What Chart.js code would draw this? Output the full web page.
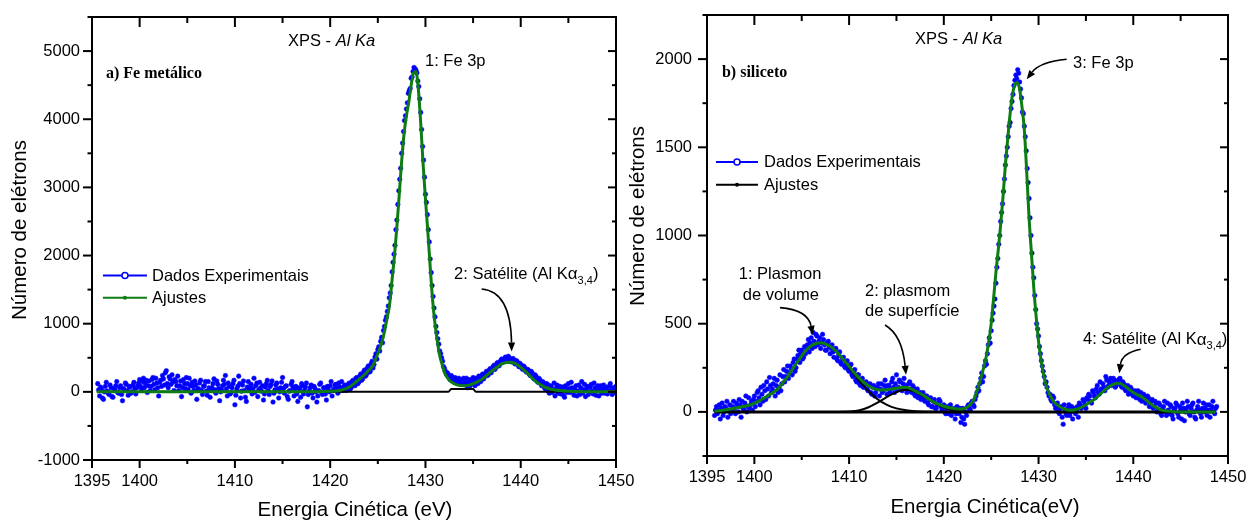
<!DOCTYPE html>
<html>
<head>
<meta charset="utf-8">
<script src="https://cdn.jsdelivr.net/npm/chart.js@4/dist/chart.umd.min.js"></script>
<style>
  html, body { margin: 0; padding: 0; background: #fff; }
  #wrap { position: relative; width: 1249px; height: 525px; overflow: hidden; }
  canvas { position: absolute; top: 0; }
  #cA { left: 0; }
  #cB { left: 624px; }
</style>
</head>
<body>
<div id="wrap">
  <canvas id="cA" width="640" height="525"></canvas>
  <canvas id="cB" width="625" height="525"></canvas>
</div>
<script>
// ---------- (a) Fe metálico ----------
// measured spectrum: first energy and step of the analyser grid (eV)
const startA = 1395.6, stepA = 0.1;
const countsA = [
  120, 30, -60, 70, 40, -90, -110, 0, 80, 140, 10, -20, -40, 100, 60, -70, -80, 50, 30, 90,
  150, -10, -20, 60, 90, -40, -130, 50, 20, 130, 110, 20, -50, 80, 70, -20, 0, 100, 140, 50,
  -30, 60, 90, 130, 180, 80, 40, 150, 200, 60, 120, 170, -10, 90, 160, 20, 80, 180, 210, 110,
  30, 200, 130, 60, -60, 140, 170, 80, 240, 190, 100, 280, 310, 120, 60, 220, 190, 110, 250, 150,
  20, 180, 150, 90, 230, 20, 90, 160, -70, 60, 180, 120, 50, 210, 120, 30, 200, 90, -20, 140,
  80, 20, 160, 100, -110, 50, 40, 130, 170, 20, -40, 80, 90, 150, 10, -50, 150, 60, -80, 30,
  60, 120, 190, 30, -20, 160, 110, 50, -130, 0, 30, 90, 170, 110, 240, 40, -60, 130, 80, -30,
  -10, 60, 120, 170, -190, -50, 40, 80, 230, 120, -90, 10, 100, 160, 20, -80, -140, 70, 150, 30,
  60, 110, -30, 50, 200, -10, 90, 130, -70, 30, 140, 60, 10, 90, -120, -30, 70, 120, 170, 20,
  -40, 80, 110, 160, -150, -20, 30, 100, 130, 40, -90, 0, 60, 140, 210, 50, -20, 80, 90, -70,
  -110, 10, 20, 110, 150, 70, -60, 40, 80, -30, -140, 60, 40, -80, 120, 90, -30, 20, 70, 130,
  -220, -40, 10, 60, 100, -20, -90, 80, 50, 0, -150, -60, 20, 110, 130, -10, -40, 60, 60, -30,
  -120, 80, 30, 0, 90, 150, -60, 20, 40, 100, 110, 50, -20, 130, 70, 20, 150, 60, 20, 100,
  90, 20, 40, 110,
  130, 40, 60, 150, 170, 110, 90, 200, 210, 120,
  140, 230, 260, 170, 190, 290, 320, 230, 250, 350,
  380, 290, 300, 410, 450, 350, 400, 510, 560, 480,
  620, 660, 600, 740, 800, 720, 900, 960, 1050, 1100,
  1180, 1260, 1380, 1450, 1560, 1760, 1900, 2020, 2150, 2380,
  2520, 2750, 2950, 3120, 3280, 3500, 3650, 3820, 3980, 4050,
  4150, 4240, 4380, 4420, 4450, 4600, 4620, 4700, 4760, 4740,
  4720, 4680, 4560, 4480, 4300, 4100, 3850, 3600, 3400, 3150,
  2900, 2780, 2600, 2380, 2200, 1950, 1750, 1560, 1400, 1230,
  1100, 960, 870, 780, 700, 600, 560, 500, 450, 370,
  340, 300, 260, 280, 250, 210, 180, 240, 220, 160,
  150, 210, 190, 140, 130, 200, 170, 120, 110, 180,
  200,
  110, 140, 200, 60, 130, 180, 90, 120, 170, 210,
  150, 90, 200, 170, 120, 230, 190, 150, 240, 260,
  190, 220, 270, 300, 240, 250, 320, 340, 280, 320,
  370, 390, 330, 360, 420, 430, 380, 400, 460, 480,
  430, 450, 490, 510, 460, 470, 520, 500, 450, 440,
  480, 490, 430, 410, 460, 450, 400, 370, 420, 400,
  350, 330, 380, 360, 310, 290, 330, 320, 260, 240,
  300, 280, 210, 190, 250, 230, 160, 140, 200, 180,
  120, 90, 150, 130, 60, 40, 120, 110, 10, -20,
  90, 80, -10, 30, 130, -60, 50, 100, -20, 20,
  80, -30, 30, 70, -50, -80, 90, 40, -10, 120,
  50, -10, 140, 60, 0, -50, 30, 90, -60, 10,
  100, -40, 60, 150, -20, 30, 110, -70, 40, 80,
  -40, 0, 70, 110, 10, -30, 130, 60, -50, 20,
  90, -60, 30, 90, -20, 40, 100, -20, 50, 70,
  -30, 10, 80, 120, 20, -40, 60, 50, -10, 80
];
// fitted envelope
const fitEnergyA = [1395.5, 1400, 1405, 1410, 1415, 1418, 1420, 1421, 1421.5,
  1422, 1422.5, 1423, 1423.5, 1424, 1424.5, 1425, 1425.5,
  1426, 1426.25, 1426.5, 1426.75, 1427, 1427.25, 1427.5, 1427.75,
  1428, 1428.25, 1428.5, 1428.75, 1429, 1429.25, 1429.5, 1429.75,
  1430, 1430.25, 1430.5, 1430.75, 1431, 1431.25, 1431.5, 1431.75,
  1432, 1432.5, 1433, 1433.5, 1434, 1434.5, 1435, 1435.5, 1436, 1436.5,
  1437, 1437.5, 1438, 1438.5, 1439, 1439.5, 1440, 1440.5, 1441, 1441.5,
  1442, 1442.5, 1443, 1443.5, 1444, 1445, 1446, 1447, 1450];
const fitCountsA = [0, 0, 0, 0, 0, 2, 8, 20, 40,
  70, 120, 180, 240, 310, 390, 560, 765,
  1100, 1300, 1650, 2000, 2420, 2900, 3380, 3780,
  4050, 4250, 4500, 4680, 4700, 4450, 3950, 3350,
  2830, 2350, 1830, 1350, 1000, 740, 530, 400,
  280, 170, 120, 95, 90, 95, 120, 150, 190, 250,
  310, 360, 410, 430, 435, 410, 360, 300, 230, 160,
  110, 70, 45, 30, 20, 10, 5, 0, 0];
// background component
const baseEnergyA = [1395.5, 1432.4, 1432.7, 1435.0, 1435.3, 1450];
const baseCountsA = [0, 0, 40, 40, 0, 0];

// ---------- (b) siliceto ----------
const startB = 1395.8, stepB = 0.1;
const countsB = [
  -20, 10, 30, -10, 10, 40, -40, 20, 50, -20, 0, 30, 20, 60, -30, 10, 40, -10, 10, 30,
  60, 20, -10, 50, 30, 0, 70, 40, -30, 60, 20, 10, 50, 90, 0, 30, 80, 20, 40, 60,
  10, 70, 90, 30, 60, 110, 120, 80, 40, 140, 100, 60, 150, 120, 70, 170, 130, 90, 195, 150,
  110, 130, 160, 190, 90, 150, 180, 110, 140, 210, 120, 160, 200, 240, 170, 200, 230, 260, 190, 220,
  260, 240, 210, 280, 300, 230, 250, 300, 320, 350, 280, 330, 350, 300, 310, 370, 330, 360, 380, 410,
  340, 390, 420, 360, 450, 400, 370, 440, 430, 380, 400, 420, 360, 390, 440, 410, 380, 350, 350, 390,
  400, 370, 330, 360, 380, 340, 310, 350, 360, 300, 290, 320, 340, 280, 270, 300, 310, 260, 250, 280,
  290, 240, 230, 260, 270, 210, 200, 230, 240, 180, 170, 210, 210, 160, 150, 180, 190, 140, 140, 160,
  170, 130, 120, 150, 160, 110, 100, 140, 150, 90, 110, 130, 140, 160, 90, 130, 160, 110, 120, 150,
  180, 130, 100, 150, 150, 110, 130, 170, 190, 140, 110, 160, 210, 130, 140, 180, 170, 130, 120, 160,
  190, 140, 150, 110, 130, 160, 170, 120, 110, 150, 140, 100, 90, 120, 130, 80, 100, 110, 70, 90,
  110, 70, 60, 90, 90, 50, 40, 70, 80, 30, 30, 60, 70, 20, 20, 40, 50, 70, 60, 30,
  10, 30, 40, 0, -10, 20, 30, -10, 20, 40, -20, 0, 10, 20, -40, -10, 30, 10, -10, 20,
  -60, -30, 20, -40, -70, 0, -20, 30, 40, 20, 10, 50, 60, 40, 30, 70, 90, 110, 140, 120,
  160, 190, 220, 170, 200, 260, 290, 270, 330, 380, 420, 390, 460, 520, 560, 600, 640, 730, 820, 870,
  950, 1000, 1080, 1130, 1180, 1250, 1320, 1400, 1450, 1500, 1560, 1620, 1640, 1720, 1760, 1800, 1850, 1880, 1910, 1890,
  1940, 1920, 1870, 1830, 1780, 1700, 1690, 1620, 1560, 1480, 1380, 1300, 1210, 1100, 1000, 900, 820, 760, 660, 580,
  500, 470, 430, 370, 330, 290, 260, 230, 200, 160, 170, 140, 110, 90, 100, 70, 60, 90, 80, 40,
  20, 30, 50, 0, -10, 20, 30, -30, -70, 40, 10, -10, -20, 20, 40, -20, 0, 30, -40, 10,
  20, -10, 10, 30, -30, 50, 40, 20, 30, 70, 60, 40, 20, 80, 70, 100, 90, 60, 50, 120,
  110, 90, 80, 130, 150, 110, 100, 170, 130, 120, 160, 140, 120, 200, 180, 140, 150, 170, 190, 150,
  160, 190, 180, 140, 150, 175, 170, 185, 190, 150, 140, 170, 160, 130, 120, 140, 150, 100, 110, 140,
  130, 100, 90, 110, 120, 80, 100, 120, 80, 70, 110, 60, 70, 100, 90, 50, 60, 90, 80, 30,
  40, 60, 70, 20, 30, 60, 50, 0, 10, 50, 40, -10, -20, 20, 30, 60, 0, -20, 50, 10,
  -10, 40, 30, -20, -40, 10, 20, 50, 40, -10, -30, 30, 10, -40, 50, 20, -50, 0, 20, 60,
  30, -10, -20, 20, 40, 50, 0, -30, -40, 10, 30, 60, 10, -10, -30, 20, 50, 0, 20, 40,
  -20, 10, 40, -30, 10, 30, 60, 0, -10, 20, 30
];
const fitEnergyB = [1395.8, 1396.5, 1397, 1397.5, 1398, 1398.5, 1399, 1399.5,
  1400, 1400.5, 1401, 1401.5, 1402, 1402.5, 1403, 1403.5, 1404, 1404.5,
  1405, 1405.5, 1406, 1406.5, 1407, 1407.5, 1408, 1408.5, 1409, 1409.5,
  1410, 1410.5, 1411, 1411.5, 1412, 1412.5, 1413, 1413.5, 1414, 1414.5,
  1415, 1415.5, 1416, 1416.5, 1417, 1417.5, 1418, 1418.5, 1419, 1419.5,
  1420, 1420.5, 1421, 1421.5, 1422, 1422.5,
  1423, 1423.25, 1423.5, 1423.75, 1424, 1424.25, 1424.5, 1424.75,
  1425, 1425.25, 1425.5, 1425.75, 1426, 1426.25, 1426.5, 1426.75,
  1427, 1427.25, 1427.5, 1427.75, 1428, 1428.25, 1428.5, 1428.75,
  1429, 1429.25, 1429.5, 1429.75, 1430, 1430.25, 1430.5, 1430.75, 1431,
  1431.5, 1432, 1432.5, 1433, 1433.5, 1434, 1434.5, 1435, 1435.5, 1436,
  1436.5, 1437, 1437.5, 1438, 1438.5, 1439, 1439.5, 1440, 1440.5, 1441,
  1441.5, 1442, 1442.5, 1443, 1444, 1445, 1446, 1447, 1448, 1448.7];
const fitCountsB = [3, 8, 12, 17, 22, 27, 32, 38,
  50, 62, 78, 95, 112, 132, 165, 200, 240, 280,
  318, 352, 375, 388, 392, 385, 372, 350, 322, 290,
  258, 225, 195, 170, 150, 135, 126, 124, 126, 130,
  134, 138, 140, 132, 118, 104, 88, 70, 54, 42,
  32, 25, 20, 17, 18, 28,
  55, 80, 120, 160, 210, 260, 320, 400,
  500, 640, 790, 920, 1060, 1220, 1400, 1550,
  1690, 1800, 1855, 1868, 1830, 1730, 1600, 1360,
  1100, 900, 700, 540, 400, 300, 220, 160, 120,
  65, 38, 22, 12, 10, 15, 25, 40, 58, 75,
  100, 125, 145, 158, 162, 150, 130, 110, 95, 82,
  60, 38, 23, 10, 3, 0, 0, 0, 0, 0];
// fitted components: volume plasmon, surface plasmon, background
const volEnergyB = [1395.8, 1397, 1398, 1399, 1400, 1401, 1402, 1403, 1404, 1405, 1406,
  1407, 1408, 1409, 1410, 1411, 1412, 1413, 1414, 1415, 1416, 1417, 1418, 1419];
const volCountsB = [3, 12, 22, 32, 50, 78, 112, 165, 240, 318, 375,
  392, 370, 318, 250, 180, 120, 72, 40, 20, 10, 4, 1, 0];
const surfEnergyB = [1409, 1410, 1411, 1412, 1413, 1414, 1415, 1416, 1417, 1418, 1419, 1420, 1421, 1422, 1423];
const surfCountsB = [0, 2, 8, 25, 52, 85, 112, 126, 112, 82, 50, 25, 10, 3, 0];
const baseEnergyB = [1395.8, 1448.7];
const baseCountsB = [0, 0];

// ---------- axes ----------
const xMajor = [1395, 1400, 1410, 1420, 1430, 1440, 1450];
const xMinor = [1405, 1415, 1425, 1435, 1445];
const yMajorA = [-1000, 0, 1000, 2000, 3000, 4000, 5000];
const yMinorA = [-500, 500, 1500, 2500, 3500, 4500, 5500];
const yMajorB = [0, 500, 1000, 1500, 2000];
const yMinorB = [-250, 250, 750, 1250, 1750, 2250];

const GREEN = '#0d7c12';
const BLUE = '#0000ff';
const SANS = '"Liberation Sans", Arial, sans-serif';
const SERIF = '"Liberation Serif", "Times New Roman", serif';

function pts(xs, ys) { return xs.map((x, i) => ({ x, y: ys[i] })); }
function gridPts(start, step, ys) {
  return ys.map((y, i) => ({ x: +(start + i * step).toFixed(2), y }));
}

function fontOf(f) {
  switch (f) {
    case 'i': return `italic 16.5px ${SANS}`;
    case 'b': return `bold 16px ${SERIF}`;
    case 's': return `11px ${SANS}`;
    case 'g': return `17px ${SANS}`;
    default: return `16.5px ${SANS}`;
  }
}
function drawParts(ctx, parts, x, y, align) {
  let w = 0;
  parts.forEach(p => { ctx.font = fontOf(p.f); w += ctx.measureText(p.t).width; });
  let cx = align === 'center' ? x - w / 2 : x;
  ctx.textAlign = 'left';
  ctx.textBaseline = 'middle';
  parts.forEach(p => {
    ctx.font = fontOf(p.f);
    ctx.fillText(p.t, cx, y + (p.f === 's' ? 6 : 0));
    cx += ctx.measureText(p.t).width;
  });
}
function drawArrow(ctx, s, c, t) {
  const ang = Math.atan2(t[1] - c[1], t[0] - c[0]);
  const L = 9, W = 3.6;
  const bx = t[0] - L * Math.cos(ang), by = t[1] - L * Math.sin(ang);
  ctx.beginPath();
  ctx.moveTo(s[0], s[1]);
  ctx.quadraticCurveTo(c[0], c[1], bx, by);
  ctx.stroke();
  ctx.beginPath();
  ctx.moveTo(t[0], t[1]);
  ctx.lineTo(bx + W * Math.sin(ang), by - W * Math.cos(ang));
  ctx.lineTo(bx - W * Math.sin(ang), by + W * Math.cos(ang));
  ctx.closePath();
  ctx.fill();
}

// frame with mirrored ticks, annotations, legend and axis titles
const decorPlugin = {
  id: 'decor',
  afterDraw(chart, args, o) {
    const { ctx, chartArea: a } = chart;
    const sx = chart.scales.x, sy = chart.scales.y;
    const P = (x, y) => [sx.getPixelForValue(x), sy.getPixelForValue(y)];
    ctx.save();
    ctx.strokeStyle = '#000';
    ctx.fillStyle = '#000';
    ctx.lineWidth = 2;
    ctx.lineCap = 'butt';
    const tick = (x1, y1, x2, y2) => { ctx.beginPath(); ctx.moveTo(x1, y1); ctx.lineTo(x2, y2); ctx.stroke(); };
    o.xMajor.forEach(v => { const p = sx.getPixelForValue(v); tick(p, a.bottom, p, a.bottom + 8); tick(p, a.top, p, a.top + 10); });
    o.xMinor.forEach(v => { const p = sx.getPixelForValue(v); tick(p, a.bottom, p, a.bottom + 4); tick(p, a.top, p, a.top + 6); });
    o.yMajor.forEach(v => { const p = sy.getPixelForValue(v); tick(a.left - 9, p, a.left, p); tick(a.right - 8, p, a.right, p); });
    o.yMinor.forEach(v => { const p = sy.getPixelForValue(v); tick(a.left - 4.5, p, a.left, p); tick(a.right - 4, p, a.right, p); });
    ctx.strokeRect(a.left, a.top, a.right - a.left, a.bottom - a.top);

    // annotation texts
    ctx.fillStyle = '#000';
    o.notes.forEach(n => { const [x, y] = P(n.x, n.y); drawParts(ctx, n.parts, x, y, n.align); });
    // arrows
    ctx.lineWidth = 1.6;
    o.arrows.forEach(r => drawArrow(ctx, P(...r.from), P(...r.ctrl), P(...r.to)));

    // legend
    const L = o.legend;
    L.rows.forEach(r => {
      const [x0, y] = P(L.x0, r.y), [x1] = P(L.x1, r.y), [xm] = P(L.xm, r.y), [tx] = P(L.tx, r.y);
      ctx.strokeStyle = r.color; ctx.lineWidth = 2;
      ctx.beginPath(); ctx.moveTo(x0, y); ctx.lineTo(x1, y); ctx.stroke();
      ctx.beginPath();
      if (r.marker === 'open') {
        ctx.arc(xm, y, 3, 0, Math.PI * 2); ctx.fillStyle = '#fff'; ctx.fill();
        ctx.lineWidth = 1.5; ctx.stroke();
      } else {
        ctx.arc(xm, y, 2, 0, Math.PI * 2); ctx.fillStyle = r.color; ctx.fill();
      }
      ctx.fillStyle = '#000';
      ctx.font = `16.5px ${SANS}`; ctx.textAlign = 'left'; ctx.textBaseline = 'middle';
      ctx.fillText(r.text, tx, y + 1);
    });

    // axis titles
    ctx.fillStyle = '#000';
    ctx.font = `20.5px ${SANS}`;
    ctx.textAlign = 'center'; ctx.textBaseline = 'middle';
    ctx.fillText(o.xTitle.text, o.xTitle.x, o.xTitle.y);
    ctx.save();
    ctx.translate(o.yTitle.x, o.yTitle.y);
    ctx.rotate(-Math.PI / 2);
    ctx.fillText(o.yTitle.text, 0, 0);
    ctx.restore();
    ctx.restore();
  }
};

function makeChart(id, c) {
  return new Chart(document.getElementById(id), {
    type: 'scatter',
    data: { datasets: c.datasets },
    options: {
      responsive: false,
      animation: false,
      events: [],
      layout: { padding: c.padding },
      plugins: { legend: { display: false }, tooltip: { enabled: false }, decor: c.decor },
      scales: {
        x: {
          type: 'linear', min: 1395, max: 1450,
          afterBuildTicks: s => { s.ticks = xMajor.map(v => ({ value: v })); },
          afterFit: s => { s.height = c.xHeight; s.paddingLeft = 0; s.paddingRight = 0; },
          grid: { display: false, drawTicks: false },
          border: { display: false },
          ticks: { autoSkip: false, maxRotation: 0, padding: 12, color: '#000',
                   font: { family: SANS, size: 16.5 }, callback: v => String(v) }
        },
        y: {
          type: 'linear', min: c.yMin, max: c.yMax,
          afterBuildTicks: s => { s.ticks = c.decor.yMajor.map(v => ({ value: v })); },
          afterFit: s => { s.width = c.yWidth; s.paddingTop = 0; s.paddingBottom = 0; },
          grid: { display: false, drawTicks: false },
          border: { display: false },
          ticks: { autoSkip: false, padding: c.yPad, color: '#000',
                   font: { family: SANS, size: 16.5 }, callback: v => String(v) }
        }
      }
    },
    plugins: [decorPlugin]
  });
}

const lineStyle = (color, width) => ({
  showLine: true, borderColor: color, borderWidth: width, pointRadius: 0,
  cubicInterpolationMode: 'monotone', fill: false
});
const dotStyle = { pointRadius: 2.3, pointBackgroundColor: BLUE, pointBorderColor: BLUE, pointBorderWidth: 0.5, showLine: false };

makeChart('cA', {
  padding: { left: 8, right: 24, top: 17, bottom: 3 },
  yWidth: 84, xHeight: 62, yPad: 12, yMin: -1000, yMax: 5500,
  datasets: [
    Object.assign({ label: 'Ajustes', data: pts(fitEnergyA, fitCountsA), order: 0 }, lineStyle(GREEN, 3)),
    Object.assign({ label: 'fundo', data: pts(baseEnergyA, baseCountsA), order: 1 }, lineStyle('#000', 2)),
    Object.assign({ label: 'Dados Experimentais', data: gridPts(startA, stepA, countsA), order: 2 }, dotStyle)
  ],
  decor: {
    xMajor, xMinor, yMajor: yMajorA, yMinor: yMinorA,
    notes: [
      { x: 1415.57, y: 5147, parts: [{ t: 'XPS - ' }, { t: 'Al Ka', f: 'i' }] },
      { x: 1396.47, y: 4662, parts: [{ t: 'a) Fe metálico', f: 'b' }] },
      { x: 1429.95, y: 4853, parts: [{ t: '1: Fe 3p' }] },
      { x: 1433.0, y: 1721, parts: [{ t: '2: Satélite (Al K' }, { t: 'α', f: 'g' }, { t: '3,4', f: 's' }, { t: ')' }] }
    ],
    arrows: [
      { from: [1435.9, 1510], ctrl: [1438.95, 1475], to: [1439.05, 593] }
    ],
    legend: {
      x0: 1396.15, x1: 1400.77, xm: 1398.46, tx: 1401.3,
      rows: [
        { y: 1706, color: BLUE, marker: 'open', text: 'Dados Experimentais' },
        { y: 1382, color: GREEN, marker: 'dot', text: 'Ajustes' }
      ]
    },
    xTitle: { text: 'Energia Cinética (eV)', x: 355, y: 510 },
    yTitle: { text: 'Número de elétrons', x: 20, y: 230 }
  }
});

makeChart('cB', {
  padding: { left: 8, right: 21, top: 15, bottom: 3 },
  yWidth: 75, xHeight: 66, yPad: 15, yMin: -250, yMax: 2250,
  datasets: [
    Object.assign({ label: 'Ajustes', data: pts(fitEnergyB, fitCountsB), order: 0 }, lineStyle(GREEN, 3)),
    Object.assign({ label: 'plasmon de volume', data: pts(volEnergyB, volCountsB), order: 1 }, lineStyle('#000', 2)),
    Object.assign({ label: 'plasmon de superfície', data: pts(surfEnergyB, surfCountsB), order: 1 }, lineStyle('#000', 2)),
    Object.assign({ label: 'fundo', data: pts(baseEnergyB, baseCountsB), order: 1 }, lineStyle('#000', 3)),
    Object.assign({ label: 'Dados Experimentais', data: gridPts(startB, stepB, countsB), order: 2 }, dotStyle)
  ],
  decor: {
    xMajor, xMinor, yMajor: yMajorB, yMinor: yMinorB,
    notes: [
      { x: 1416.96, y: 2109, parts: [{ t: 'XPS - ' }, { t: 'Al Ka', f: 'i' }] },
      { x: 1396.58, y: 1922, parts: [{ t: 'b) siliceto', f: 'b' }] },
      { x: 1433.64, y: 1978, parts: [{ t: '3: Fe 3p' }] },
      { x: 1402.71, y: 777, parts: [{ t: '1: Plasmon' }], align: 'center' },
      { x: 1402.8, y: 658, parts: [{ t: 'de volume' }], align: 'center' },
      { x: 1411.68, y: 680, parts: [{ t: '2: plasmom' }] },
      { x: 1411.68, y: 567, parts: [{ t: 'de superfície' }] },
      { x: 1434.69, y: 408, parts: [{ t: '4: Satélite (Al K' }, { t: 'α', f: 'g' }, { t: '3,4', f: 's' }, { t: ')' }] }
    ],
    arrows: [
      { from: [1432.97, 1999], ctrl: [1430.15, 1984], to: [1428.75, 1886] },
      { from: [1402.71, 591], ctrl: [1405.66, 578], to: [1406.16, 437] },
      { from: [1413.79, 493], ctrl: [1415.59, 437], to: [1416.01, 210] },
      { from: [1440.78, 355], ctrl: [1438.81, 334], to: [1438.52, 219] }
    ],
    legend: {
      x0: 1395.95, x1: 1400.38, xm: 1398.17, tx: 1401.02,
      rows: [
        { y: 1417, color: BLUE, marker: 'open', text: 'Dados Experimentais' },
        { y: 1287, color: '#000', marker: 'dot', text: 'Ajustes' }
      ]
    },
    xTitle: { text: 'Energia Cinética(eV)', x: 361, y: 507 },
    yTitle: { text: 'Número de elétrons', x: 14, y: 216 }
  }
});
</script>
</body>
</html>
